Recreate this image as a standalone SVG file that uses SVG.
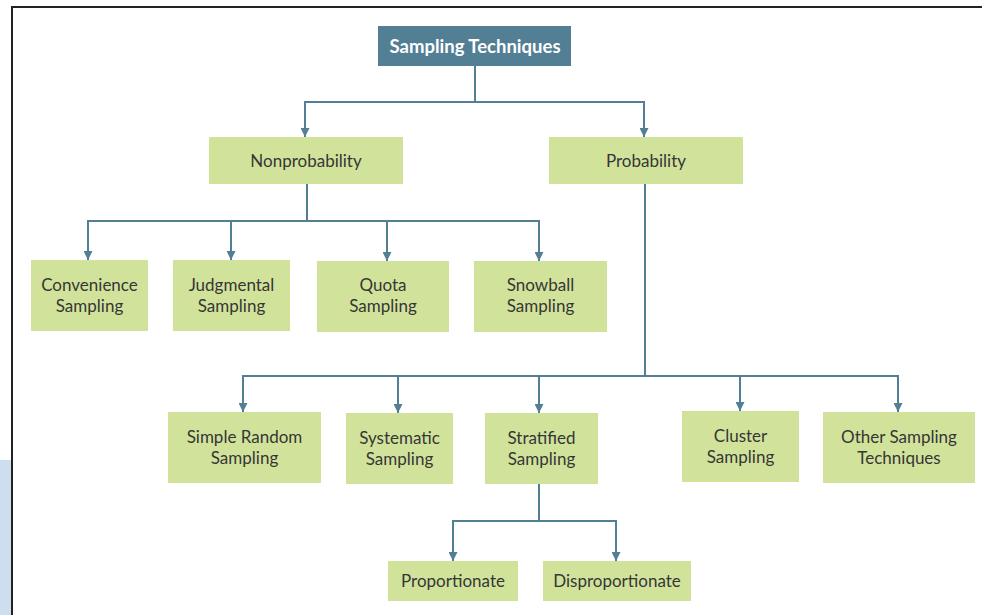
<svg xmlns="http://www.w3.org/2000/svg" width="982" height="615" viewBox="0 0 982 615">
  <style>
    .box { fill: #d1e39b; }
    .root { fill: #527f94; }
    .lbl { font-family: Lato, "Open Sans", "Liberation Sans", sans-serif; font-size: 17px; fill: #363636; text-anchor: middle; }
    .title { font-family: Lato, "Open Sans", "Liberation Sans", sans-serif; font-size: 18.5px; font-weight: bold; fill: #ffffff; text-anchor: middle; }
    .wire { fill: none; stroke: #527f94; stroke-width: 2; }
  </style>
  <defs>
    <marker id="arrow" viewBox="0 0 10 10" refX="10" refY="5" markerWidth="9" markerHeight="9" markerUnits="userSpaceOnUse" orient="auto">
      <path d="M0,0 L10,5 L0,10 Z" fill="#527f94"/>
    </marker>
  </defs>

  <!-- page frame -->
  <rect x="0" y="0" width="982" height="615" fill="#ffffff"/>
  <rect x="0" y="460" width="11" height="155" fill="#cddfee"/>
  <path d="M12,615 L12,7 L982,7" fill="none" stroke="#222222" stroke-width="2"/>

  <!-- connectors -->
  <g id="connectors" class="wire">
    <path d="M475,66 V102 H305 V137" marker-end="url(#arrow)"/>
    <path d="M475,102 H644 V137" marker-end="url(#arrow)"/>

    <path d="M307,184 V221 H88 V260" marker-end="url(#arrow)"/>
    <path d="M307,221 H231 V260"  marker-end="url(#arrow)"/>
    <path d="M307,221 H387 V261" marker-end="url(#arrow)"/>
    <path d="M387,221 H539 V261" marker-end="url(#arrow)"/>

    <path d="M645,184 V376 H243 V412" marker-end="url(#arrow)"/>
    <path d="M398,376 V413" marker-end="url(#arrow)"/>
    <path d="M539,376 V413" marker-end="url(#arrow)"/>
    <path d="M645,376 H898 V412" marker-end="url(#arrow)"/>
    <path d="M740,376 V411" marker-end="url(#arrow)"/>

    <path d="M539,484 V521 H453 V561" marker-end="url(#arrow)"/>
    <path d="M539,521 H616 V561" marker-end="url(#arrow)"/>
  </g>

  <g id="sampling-techniques">
    <rect class="root" x="378" y="26" width="193" height="40"/>
    <text class="title" x="475" y="52.5">Sampling Techniques</text>
  </g>

  <g id="nonprobability">
    <rect class="box" x="209" y="137" width="194" height="47"/>
    <text class="lbl" x="306" y="166.5">Nonprobability</text>
  </g>
  <g id="probability">
    <rect class="box" x="549" y="137" width="194" height="47"/>
    <text class="lbl" x="646" y="166.5">Probability</text>
  </g>

  <g id="convenience">
    <rect class="box" x="31" y="260" width="117" height="71"/>
    <text class="lbl" x="89.5" y="291">Convenience</text>
    <text class="lbl" x="89.5" y="311.5">Sampling</text>
  </g>
  <g id="judgmental">
    <rect class="box" x="173" y="260" width="117" height="71"/>
    <text class="lbl" x="231.5" y="291">Judgmental</text>
    <text class="lbl" x="231.5" y="311.5">Sampling</text>
  </g>
  <g id="quota">
    <rect class="box" x="317" y="261" width="132" height="71"/>
    <text class="lbl" x="383" y="291">Quota</text>
    <text class="lbl" x="383" y="311.5">Sampling</text>
  </g>
  <g id="snowball">
    <rect class="box" x="474" y="261" width="133" height="71"/>
    <text class="lbl" x="540.5" y="291">Snowball</text>
    <text class="lbl" x="540.5" y="311.5">Sampling</text>
  </g>

  <g id="simple-random">
    <rect class="box" x="168" y="412" width="153" height="71"/>
    <text class="lbl" x="244.5" y="443">Simple Random</text>
    <text class="lbl" x="244.5" y="463.5">Sampling</text>
  </g>
  <g id="systematic">
    <rect class="box" x="346" y="413" width="107" height="71"/>
    <text class="lbl" x="399.5" y="444">Systematic</text>
    <text class="lbl" x="399.5" y="464.5">Sampling</text>
  </g>
  <g id="stratified">
    <rect class="box" x="485" y="413" width="113" height="71"/>
    <text class="lbl" x="541.5" y="444">Stratified</text>
    <text class="lbl" x="541.5" y="464.5">Sampling</text>
  </g>
  <g id="cluster">
    <rect class="box" x="682" y="411" width="117" height="71"/>
    <text class="lbl" x="740.5" y="442">Cluster</text>
    <text class="lbl" x="740.5" y="462.5">Sampling</text>
  </g>
  <g id="other">
    <rect class="box" x="823" y="412" width="152" height="71"/>
    <text class="lbl" x="899" y="443">Other Sampling</text>
    <text class="lbl" x="899" y="463.5">Techniques</text>
  </g>

  <g id="proportionate">
    <rect class="box" x="388" y="561" width="130" height="40"/>
    <text class="lbl" x="453" y="586.5">Proportionate</text>
  </g>
  <g id="disproportionate">
    <rect class="box" x="543" y="561" width="148" height="40"/>
    <text class="lbl" x="617" y="586.5">Disproportionate</text>
  </g>
</svg>
